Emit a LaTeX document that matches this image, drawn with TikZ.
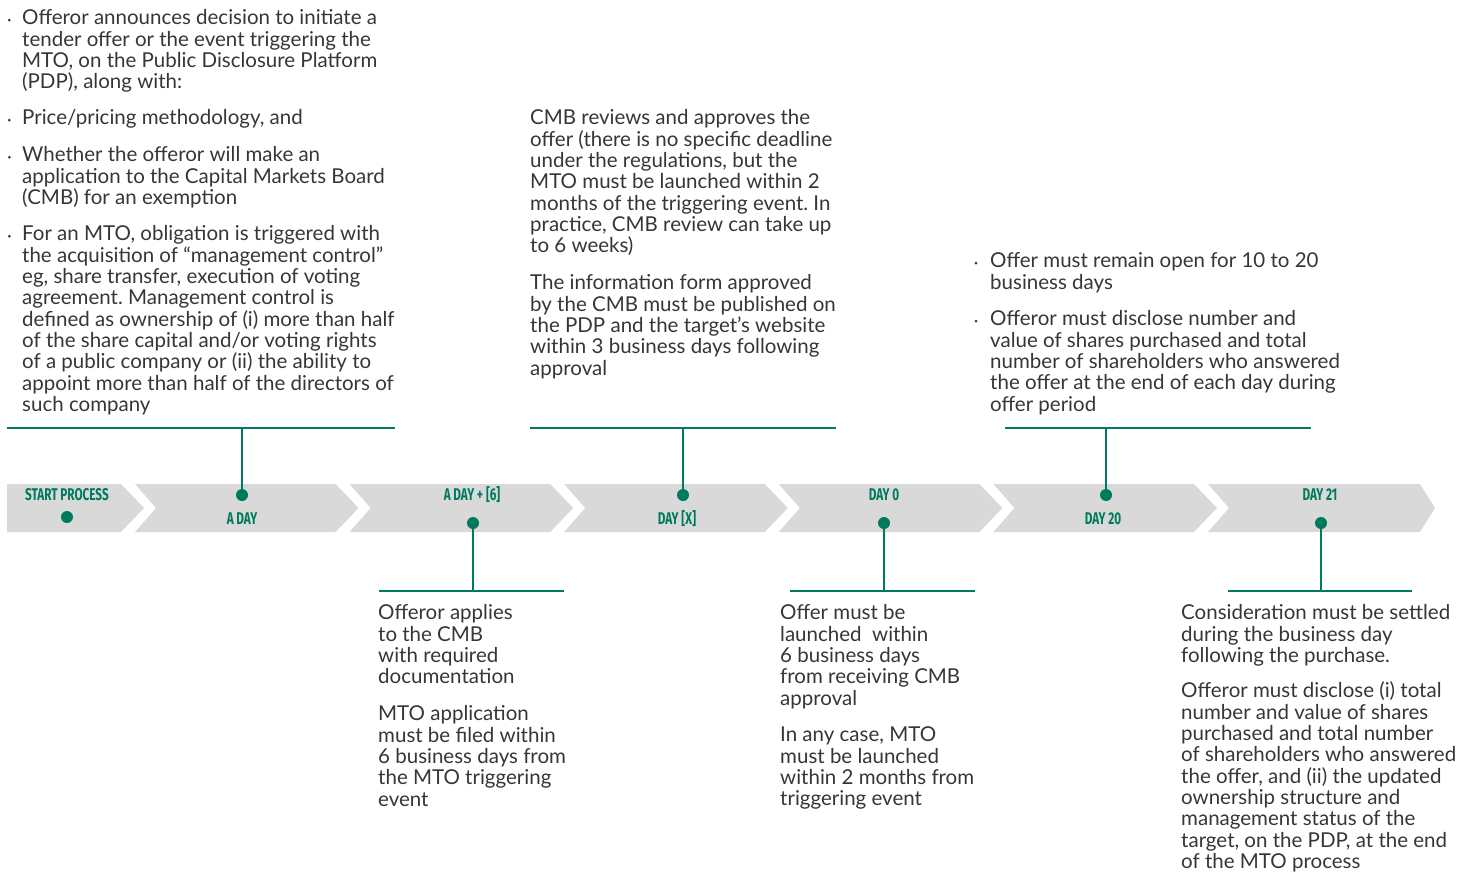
\documentclass[tikz,border=0pt]{standalone}
\usepackage{fontspec}
\setmainfont{Lato}
\newfontfamily\labfont[FakeStretch=0.69]{Fira Sans}
\definecolor{tgreen}{HTML}{007A5E}
\definecolor{tgrey}{HTML}{D9D9D9}
\definecolor{ttext}{HTML}{363636}
\newcommand{\topstrut}{\rule{0pt}{16pt}}
\frenchspacing
\begin{document}
\begin{tikzpicture}[x=1pt,y=-1pt,
 txt/.style={anchor=north west, inner sep=0pt, align=left, font=\fontsize{20.5}{21.35}\selectfont, text=ttext},
 lab/.style={inner sep=0pt, font=\labfont\bfseries\fontsize{17}{17}\selectfont, text=tgreen},
 tdot/.style={circle, fill=tgreen, inner sep=0pt, minimum size=12pt},
 conn/.style={draw=tgreen, line width=2pt},
 bul/.style={circle, fill=ttext, inner sep=0pt, minimum size=3pt},
 seg/.style={fill=tgrey}]
\useasboundingbox (0,0) rectangle (1464,872);
% chevrons
\fill[seg] (7,484) -- (121,484) -- (144,508) -- (121,532) -- (7,532) -- cycle;
\foreach \l/\r/\t in {135/335.6/358.6, 349.6/550.2/573.2, 564.2/764.8/787.8, 778.8/979.4/1002.4, 993.4/1194/1217, 1208/1420/1435}
  \fill[seg] (\l,484) -- (\r,484) -- (\t,508) -- (\r,532) -- (\l,532) -- (\l+21,508) -- cycle;
% labels and dots
\node[lab] (lStart) at (67,495) {START PROCESS};
\node[tdot] (dStart) at (67,517) {};
\node[tdot] (dA) at (242,495) {};
\node[lab] (lA) at (242,519) {A DAY};
\node[lab] (lA6) at (472,495) {A DAY + [6]};
\node[tdot] (dA6) at (473,523) {};
\node[tdot] (dX) at (683,495) {};
\node[lab] (lX) at (677,519) {DAY [X]};
\node[lab] (l0) at (884,495) {DAY 0};
\node[tdot] (d0) at (884,523) {};
\node[tdot] (d20) at (1106,495) {};
\node[lab] (l20) at (1103,519) {DAY 20};
\node[lab] (l21) at (1320,495) {DAY 21};
\node[tdot] (d21) at (1321,523) {};
% bracket lines
\coordinate (hA1) at (7,428); \coordinate (hA2) at (395,428);
\coordinate (hX1) at (530,428); \coordinate (hX2) at (836,428);
\coordinate (h201) at (1005,428); \coordinate (h202) at (1311,428);
\coordinate (hB1) at (379,591); \coordinate (hB2) at (564,591);
\coordinate (h01) at (790,591); \coordinate (h02) at (975,591);
\coordinate (h211) at (1228,591); \coordinate (h212) at (1412,591);
\draw[conn] (hA1) -- (hA2);
\draw[conn] (hX1) -- (hX2);
\draw[conn] (h201) -- (h202);
\draw[conn] (hB1) -- (hB2);
\draw[conn] (h01) -- (h02);
\draw[conn] (h211) -- (h212);
\draw[conn] (dA.center) -- (dA.center |- hA1);
\draw[conn] (dX.center) -- (dX.center |- hX1);
\draw[conn] (d20.center) -- (d20.center |- h201);
\draw[conn] (dA6.center) -- (dA6.center |- hB1);
\draw[conn] (d0.center) -- (d0.center |- h01);
\draw[conn] (d21.center) -- (d21.center |- h211);
% block 1
\node[bul] (b11) at (9.3,20.2) {};
\node[txt] (t11) at (22,8.5) {\topstrut Offeror announces decision to initiate a\\tender offer or the event triggering the\\MTO, on the Public Disclosure Platform\\(PDP), along with:};
\node[bul] (b12) at (9.3,120.2) {};
\node[txt] (t12) at (22,108.5) {\topstrut Price/pricing methodology, and};
\node[bul] (b13) at (9.3,157.2) {};
\node[txt] (t13) at (22,145.5) {\topstrut Whether the offeror will make an\\application to the Capital Markets Board\\(CMB) for an exemption};
\node[bul] (b14) at (9.3,236.2) {};
\node[txt] (t14) at (22,224.5) {\topstrut For an MTO, obligation is triggered with\\the acquisition of “management control”\\eg, share transfer, execution of voting\\agreement. Management control is\\defined as ownership of (i) more than half\\of the share capital and/or voting rights\\of a public company or (ii) the ability to\\appoint more than half of the directors of\\such company};
% block DAY X
\node[txt] (tX1) at (530,108.5) {\topstrut CMB reviews and approves the\\offer (there is no specific deadline\\under the regulations, but the\\MTO must be launched within 2\\months of the triggering event. In\\practice, CMB review can take up\\to 6 weeks)};
\node[txt] (tX2) at (530,273.5) {\topstrut The information form approved\\by the CMB must be published on\\the PDP and the target’s website\\within 3 business days following\\approval};
% block DAY 20
\node[bul] (b201) at (976,263.2) {};
\node[txt] (t201) at (990,251.5) {\topstrut Offer must remain open for 10 to 20\\business days};
\node[bul] (b202) at (976,321.2) {};
\node[txt] (t202) at (990,309.5) {\topstrut Offeror must disclose number and\\value of shares purchased and total\\number of shareholders who answered\\the offer at the end of each day during\\offer period};
% block A DAY + 6
\node[txt] (tB1) at (378,603.5) {\topstrut Offeror applies\\to the CMB\\with required\\documentation};
\node[txt] (tB2) at (378,704.5) {\topstrut MTO application\\must be filed within\\6 business days from\\the MTO triggering\\event};
% block DAY 0
\node[txt] (t01) at (780,603.5) {\topstrut Offer must be\\launched\ \ within\\6 business days\\from receiving CMB\\approval};
\node[txt] (t02) at (780,725.5) {\topstrut In any case, MTO\\must be launched\\within 2 months from\\triggering event};
% block DAY 21
\node[txt] (t211) at (1181,603.5) {\topstrut Consideration must be settled\\during the business day\\following the purchase.};
\node[txt] (t212) at (1181,681.5) {\topstrut Offeror must disclose (i) total\\number and value of shares\\purchased and total number\\of shareholders who answered\\the offer, and (ii) the updated\\ownership structure and\\management status of the\\target, on the PDP, at the end\\of the MTO process};
\end{tikzpicture}
\end{document}
